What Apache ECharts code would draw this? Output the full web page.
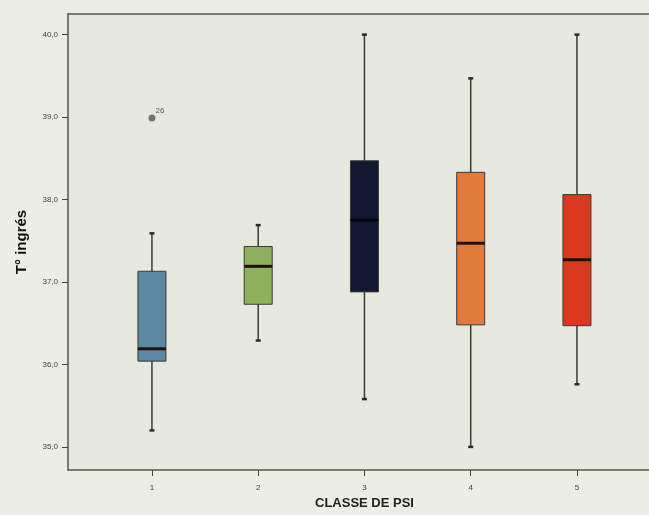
<!DOCTYPE html>
<html><head><meta charset="utf-8">
<script src="https://cdn.jsdelivr.net/npm/echarts@6/dist/echarts.min.js"></script>
<style>html,body{margin:0;padding:0;background:#eceee6}#c{width:649px;height:515px}</style>
</head><body><div id="c"></div>
<script>
const classes = [1, 2, 3, 4, 5];
const whiskerLow  = [35.2, 36.29, 35.58, 35.0, 35.76];
const q1          = [36.04, 36.73, 36.88, 36.48, 36.47];
const median      = [36.19, 37.19, 37.75, 37.47, 37.27];
const q3          = [37.13, 37.43, 38.47, 38.33, 38.06];
const whiskerHigh = [37.59, 37.69, 40.0, 39.47, 40.0];
const boxColors = ['#5b88a3', '#8db25a', '#121830', '#e07b3c', '#d9391f'];
const outliers = [[1, 38.99, '26']];
const yTicks = [35, 36, 37, 38, 39, 40];

const boxData = classes.map((c, i) => [c, whiskerLow[i], q1[i], median[i], q3[i], whiskerHigh[i]]);

const chart = echarts.init(document.getElementById('c'));
chart.setOption({
  backgroundColor: '#eceee6',
  animation: false,
  grid: { left: 68, top: 14, right: 0, height: 459, show: true, backgroundColor: '#e7e9df', borderWidth: 0 },
  xAxis: [{
    type: 'value', min: 0.21, max: 5.678,
    name: 'CLASSE DE PSI', nameLocation: 'middle', nameGap: 27,
    nameTextStyle: { fontFamily: 'Liberation Sans', fontWeight: 'bold', fontSize: 13, color: '#222', padding: [0, 0, 0, 12] },
    axisLine: { show: true, lineStyle: { color: '#555', width: 1.5 } },
    axisTick: { show: true, customValues: classes, length: 6, lineStyle: { color: '#444' } },
    axisLabel: { customValues: classes, margin: 14, fontSize: 8, color: '#444', fontFamily: 'Liberation Sans' },
    splitLine: { show: false }
  }, {
    type: 'value', position: 'top', min: 0.21, max: 5.678,
    axisLine: { show: true, lineStyle: { color: '#555', width: 1.5 } },
    axisTick: { show: false }, axisLabel: { show: false }, splitLine: { show: false }
  }],
  yAxis: {
    type: 'value', min: 34.72, max: 40.25,
    name: 'T° ingrés', nameLocation: 'middle', nameGap: 39, nameRotate: 90,
    nameTextStyle: { fontFamily: 'Liberation Sans', fontWeight: 'bold', fontSize: 15, color: '#111' },
    axisLine: { show: true, lineStyle: { color: '#555', width: 1.5 } },
    axisTick: { show: true, customValues: yTicks, length: 6, lineStyle: { color: '#444' } },
    axisLabel: { customValues: yTicks, margin: 10, fontSize: 8, color: '#444', fontFamily: 'Liberation Sans',
      formatter: v => v.toFixed(1).replace('.', ',') },
    splitLine: { show: false }
  },
  series: [
    {
      type: 'custom',
      data: boxData,
      encode: { x: 0, y: [1, 2, 3, 4, 5] },
      renderItem: function (params, api) {
        const x = api.value(0);
        const pLow = api.coord([x, api.value(1)]);
        const pQ1 = api.coord([x, api.value(2)]);
        const pMed = api.coord([x, api.value(3)]);
        const pQ3 = api.coord([x, api.value(4)]);
        const pHigh = api.coord([x, api.value(5)]);
        const hw = 14;
        const col = boxColors[params.dataIndex];
        return {
          type: 'group',
          children: [
            { type: 'line', shape: { x1: pLow[0], y1: pLow[1], x2: pHigh[0], y2: pHigh[1] }, style: { stroke: '#3a3a3a', lineWidth: 1.5 } },
            { type: 'line', shape: { x1: pLow[0] - 2.5, y1: pLow[1], x2: pLow[0] + 2.5, y2: pLow[1] }, style: { stroke: '#2a2a2a', lineWidth: 2.5 } },
            { type: 'line', shape: { x1: pHigh[0] - 2.5, y1: pHigh[1], x2: pHigh[0] + 2.5, y2: pHigh[1] }, style: { stroke: '#2a2a2a', lineWidth: 2.5 } },
            { type: 'rect', shape: { x: pQ3[0] - hw, y: pQ3[1], width: 2 * hw, height: pQ1[1] - pQ3[1] }, style: { fill: col, stroke: '#3a3a3a', lineWidth: 1 } },
            { type: 'line', shape: { x1: pMed[0] - hw, y1: pMed[1], x2: pMed[0] + hw, y2: pMed[1] }, style: { stroke: params.dataIndex === 2 ? '#05070f' : '#221010', lineWidth: 3 } }
          ]
        };
      }
    },
    {
      type: 'scatter',
      data: outliers.map(o => [o[0], o[1], o[2]]),
      symbol: 'circle', symbolSize: 7,
      itemStyle: { color: '#555' },
      label: { show: true, formatter: p => p.data[2], position: [7, -8], fontSize: 8, color: '#333', fontFamily: 'Liberation Sans' }
    }
  ]
});
</script></body></html>
